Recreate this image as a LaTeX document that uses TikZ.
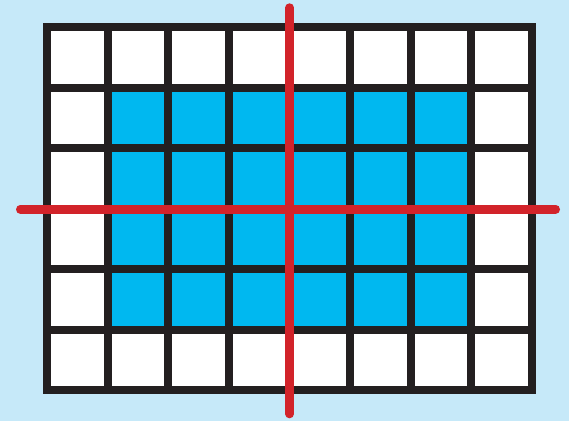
\documentclass[tikz,border=0pt]{standalone}
\definecolor{bgblue}{HTML}{C6E9F9}
\definecolor{cellblue}{HTML}{00B8F0}
\definecolor{gridblack}{HTML}{231F20}
\definecolor{axisred}{HTML}{D2232A}
\tikzset{
  gridline/.style={draw=gridblack,line width=8pt},
  axisline/.style={draw=axisred,line width=8.6pt,line cap=round}
}
\begin{document}
\begin{tikzpicture}[x=1pt,y=-1pt]
\fill[bgblue] (0,0) rectangle (569,421);
\useasboundingbox (0,0) rectangle (569,421);
% grid geometry
\def\gx{47.3}\def\gy{27.3}\def\px{60.55}\def\py{60.5}
\fill[white] (\gx,\gy) rectangle ({\gx+8*\px},{\gy+6*\py});
\fill[cellblue] ({\gx+\px},{\gy+\py}) rectangle ({\gx+7*\px},{\gy+5*\py});
\foreach \i in {1,...,7}
  \draw[gridline] ({\gx+\i*\px},\gy) -- ({\gx+\i*\px},{\gy+6*\py});
\foreach \j in {1,...,5}
  \draw[gridline] (\gx,{\gy+\j*\py}) -- ({\gx+8*\px},{\gy+\j*\py});
\draw[gridline] (\gx,\gy) rectangle ({\gx+8*\px},{\gy+6*\py});
% axes
\coordinate (vtop) at (289.6,7.6);
\coordinate (vbot) at (289.6,414);
\coordinate (hleft) at (20.3,209.2);
\coordinate (hright) at (555.7,209.2);
\draw[axisline] (hleft) -- (hright);
\draw[axisline] (vtop) -- (vbot);
\end{tikzpicture}
\end{document}
